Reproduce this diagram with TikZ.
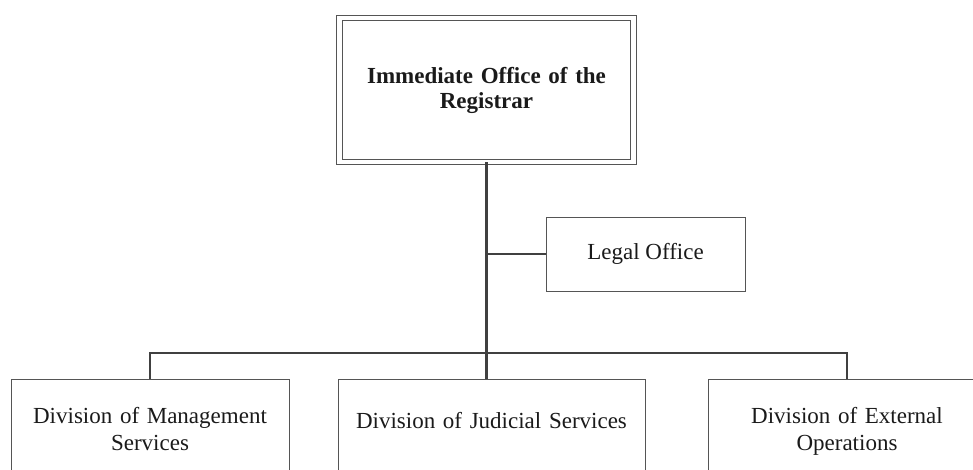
\documentclass[tikz,border=0pt]{standalone}
\usepackage{fontspec}
\setmainfont{Liberation Serif}
\usepackage{xcolor}
\usepackage{tikz}
\definecolor{boxgray}{HTML}{555555}
\definecolor{linkgray}{HTML}{404040}
\definecolor{inkgray}{HTML}{1A1A1A}

\begin{document}
\begin{tikzpicture}[x=1pt, y=-1pt,
    office/.style={draw=boxgray, line width=0.9pt, align=center, text=inkgray,
      font=\fontsize{23}{27}\selectfont, inner sep=0pt},
    division/.style={office, anchor=north, inner xsep=8pt, inner ysep=0pt,
      text height=44pt, text depth=120pt},
    link/.style={draw=linkgray, line width=2.6pt}]
    % Cadre
    \useasboundingbox (0,0) rectangle (973,470);
    \clip (0,0) rectangle (973,470);

    % Bureau du greffier
    \node[office, double, double distance=4.5pt, line width=1pt,
      minimum width=294pt, minimum height=144pt, text width=280pt,
      font=\bfseries\fontsize{23}{25}\selectfont] (reg) at (486.5,90)
      {Immediate Office of the\\Registrar};
    \node[office, minimum width=199pt, minimum height=74pt] (legal) at (645.5,254) {Legal Office};

    % Divisions
    \node[division, text width=262pt] (mgmt) at (150,379) {Division of Management\\Services};
    \node[division, text width=291pt, text height=49pt] (jud) at (491.5,379) {Division of Judicial Services};
    \node[division, text width=262pt] (ext) at (847,379) {Division of External\\Operations};

    % Liens
    \coordinate (bar) at (486,353);
    \draw[link] (reg.south) -- (reg.south |- jud.north);
    \draw[link] (reg.south |- legal.west) -- (legal.west);
    \draw[link] (mgmt.north) -- (mgmt.north |- bar) -- (ext.north |- bar) -- (ext.north);
\end{tikzpicture}
\end{document}
